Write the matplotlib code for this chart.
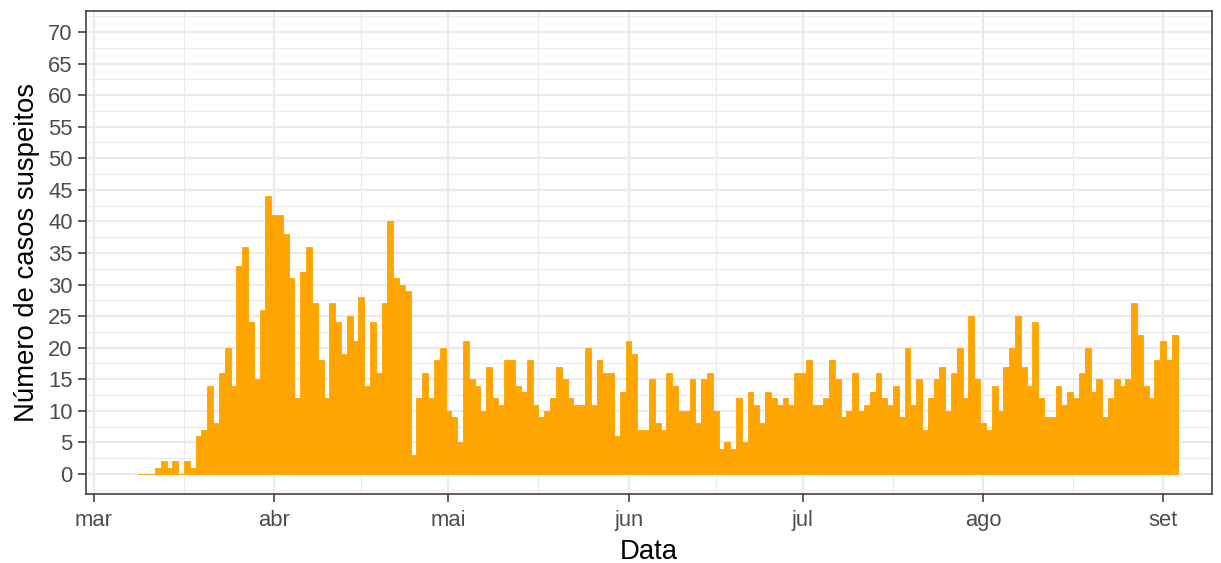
import numpy as np
import pandas as pd
import matplotlib
matplotlib.use("Agg")
import matplotlib.pyplot as plt
import matplotlib.dates as mdates

plt.rcParams['font.family'] = ['Liberation Sans', 'DejaVu Sans']

# daily suspected cases, starting on 2020-03-09
start_date = '2020-03-09'
mar_cases = [0, 0, 0, 1, 2, 1, 2, 0, 2, 1, 6, 7, 14, 8, 16, 20, 14, 33, 36, 24, 15, 26, 44]
abr_cases = [41, 41, 38, 31, 12, 32, 36, 27, 18, 12, 27, 24, 19, 25, 21, 28, 14, 24, 16, 27,
             40, 31, 30, 29, 3, 12, 16, 12, 18, 20]
mai_cases = [10, 9, 5, 21, 15, 14, 10, 17, 12, 11, 18, 18, 14, 13, 18, 11, 9, 10, 12, 17,
             15, 12, 11, 11, 20, 11, 18, 16, 16, 6, 13]
jun_cases = [21, 19, 7, 7, 15, 8, 7, 16, 14, 10, 10, 15, 8, 15, 16, 10, 4, 5, 4, 12,
             5, 13, 11, 8, 13, 12, 11, 12, 11, 16]
jul_cases = [16, 18, 11, 11, 12, 18, 15, 9, 10, 16, 10, 11, 13, 16, 12, 11, 14, 9, 20, 11,
             15, 7, 12, 15, 17, 10, 16, 20, 12, 25, 15]
ago_cases = [8, 7, 14, 10, 17, 20, 25, 17, 14, 24, 12, 9, 9, 14, 11, 13, 12, 16, 20, 13,
             15, 9, 12, 15, 14, 15, 27, 22, 14, 12, 18]
set_cases = [21, 18, 22]

month_starts = ['2020-03-01', '2020-04-01', '2020-05-01', '2020-06-01',
                '2020-07-01', '2020-08-01', '2020-09-01']
month_labels = ['mar', 'abr', 'mai', 'jun', 'jul', 'ago', 'set']

cases = mar_cases + abr_cases + mai_cases + jun_cases + jul_cases + ago_cases + set_cases
dates = pd.date_range(start_date, periods=len(cases), freq='D')

fig = plt.figure(figsize=(12.21, 5.63), dpi=100)
ax = fig.add_axes([0.0704, 0.1226, 0.9222, 0.858])

xnum = mdates.date2num(dates.to_pydatetime())
ax.bar(xnum, cases, width=1.0, color='#FFA500', edgecolor='#FFA500',
       linewidth=0.6, zorder=3)

# x axis: month ticks, minor grid at mid-month
major = mdates.date2num(pd.to_datetime(month_starts).to_pydatetime())
minor = (major[:-1] + major[1:]) / 2
ax.set_xticks(major)
ax.set_xticklabels(month_labels)
ax.set_xticks(minor, minor=True)
ax.set_xlim(major[0] - 1.38, major[0] + 192.4)

# y axis
ax.set_yticks(np.arange(0, 71, 5))
ax.set_yticks(np.arange(-2.5, 73, 5), minor=True)
ax.set_ylim(-3.17, 73.33)

ax.set_axisbelow(True)
ax.grid(which='major', color='#EBEBEB', linewidth=1.6)
ax.grid(which='minor', color='#EBEBEB', linewidth=0.8)

for s in ax.spines.values():
    s.set_color('#333333')
    s.set_linewidth(1.1)

ax.tick_params(which='major', length=5.5, width=1.1, color='#333333',
               labelcolor='#4D4D4D', labelsize=15.8, pad=4)
ax.tick_params(axis='x', which='major', pad=6)
ax.tick_params(which='minor', length=0)

ax.set_xlabel('Data', fontsize=19.8, labelpad=6)
ax.set_ylabel('Número de casos suspeitos', fontsize=19.8, labelpad=6)

fig.savefig('out.png', dpi=100)
